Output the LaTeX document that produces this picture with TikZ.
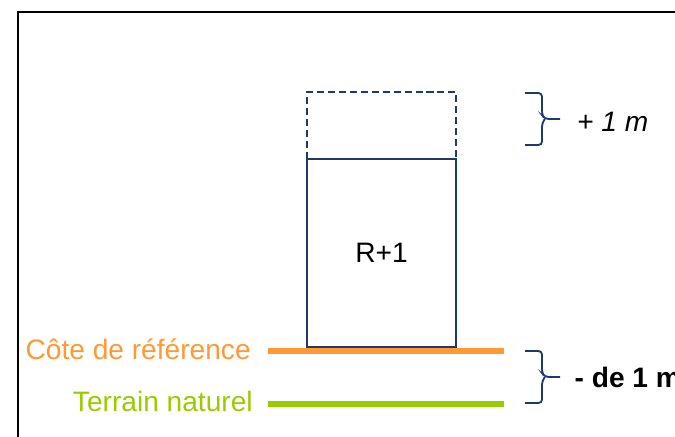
\documentclass[tikz,border=0pt]{standalone}
\usepackage{fontspec}
\setmainfont{Liberation Sans}
\usetikzlibrary{positioning}
\definecolor{navy}{RGB}{31,56,110}
\definecolor{refOrange}{RGB}{255,153,51}
\definecolor{tnGreen}{RGB}{153,204,0}
\tikzset{
	label text/.style={font=\fontsize{20}{24}\selectfont, inner sep=0pt},
	wall/.style={navy, line width=1.4pt},
	bracket/.style={navy, line width=1.3pt, rounded corners=2.5pt},
	level/.style={line width=4.3pt}
}
% brace from x=#1, top #2, bottom #3, tip named #4
\def\sidebrace(#1:#2:#3)#4{
	\coordinate (#4) at (#1+35,{(#2+#3)/2});
	\draw[bracket] (#1,#2) -- ++(17,0) -- ++(0,{(#3-#2)/2-4}) -- ++(3,4) -- (#4);
	\draw[bracket] (#1,#3) -- ++(17,0) -- ++(0,{-(#3-#2)/2+4}) -- ++(3,-4);}

\begin{document}
\begin{tikzpicture}[x=0.025cm, y=-0.025cm]
		%%%%% START %%%%%
		\clip (0,0) rectangle (675,436);
		
		\draw[line width=1.9pt] (18,460) -- (18,12) -- (700,12);
		
		% building and extra floor
		\draw[wall, dash pattern=on 5pt off 2.8pt] (307,159) -- (307,92) -- (456,92) -- (456,159);
		\draw[wall] (307,159) rectangle (456,347);
		\node[label text] (etage) at (381.5,253) {R+1};
		
		% levels
		\coordinate (refL) at (268,351);
		\coordinate (refR) at (504,351);
		\coordinate (tnL) at (268,404);
		\coordinate (tnR) at (504,404);
		\draw[level, refOrange] (refL) -- (refR);
		\draw[level, tnGreen] (tnL) -- (tnR);
		\node[label text, refOrange, anchor=base east] (cote) at (251,359) {Côte de référence};
		\node[label text, tnGreen, anchor=base east] (terrain) at (253,411) {Terrain naturel};
		
		% braces
		\sidebrace(525:93:145){tipTop}
		\node[label text, right=0.42cm of tipTop, font=\fontsize{20}{24}\selectfont\itshape, yshift=-2pt] (plus) {+ 1 m};
		
		\sidebrace(525:351:403){tipLow}
		\node[label text, right=0.36cm of tipLow, font=\fontsize{20}{24}\selectfont\bfseries] (moins) {- de 1 m};
		
		%%%%% END %%%%%
\end{tikzpicture}
\end{document}
